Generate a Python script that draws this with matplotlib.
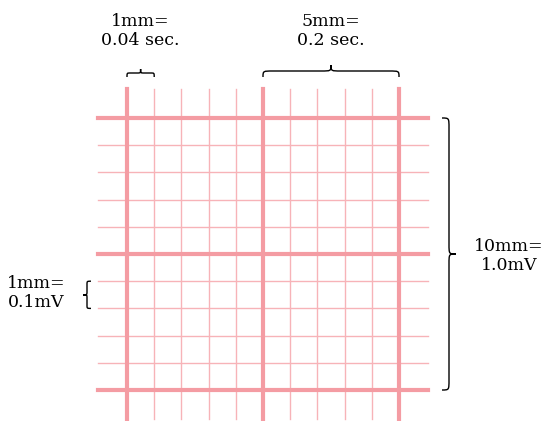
import matplotlib
matplotlib.use("Agg")
import matplotlib.pyplot as plt
from matplotlib.path import Path
from matplotlib.patches import PathPatch

# grid in mm (1 small square = 1 mm)
n_mm = 10
major_every = 5
mm_px = 27.2
x0, y0 = 127, 118          # top-left major line (pixels)
overhang = 29

labels = {
    "top_small": "1mm=\n0.04 sec.",
    "top_big": "5mm=\n0.2 sec.",
    "right": "10mm=\n1.0mV",
    "left": "1mm=\n0.1mV",
}

thick_col = "#f49ca3"
thin_col = "#f7b3b8"

fig = plt.figure(figsize=(5.53, 4.21), dpi=100)
ax = fig.add_axes([0, 0, 1, 1])
ax.set_xlim(0, 553)
ax.set_ylim(421, 0)
ax.axis("off")

x_end = x0 + n_mm * mm_px
y_end = y0 + n_mm * mm_px
for i in range(n_mm + 1):
    major = i % major_every == 0
    lw = 3.0 if major else 1.0
    c = thick_col if major else thin_col
    x = x0 + i * mm_px
    y = y0 + i * mm_px
    ax.plot([x, x], [y0 - overhang, y_end + overhang], color=c, lw=lw, zorder=3 if major else 2)
    ax.plot([x0 - overhang, x_end + overhang], [y, y], color=c, lw=lw, zorder=3 if major else 2)


def brace(a, b, pos, d, horizontal=True):
    # d > 0: tip points toward smaller coordinate (up / left)
    m = (a + b) / 2
    q = min((b - a) * 0.12, 10)
    h = pos - d / 2
    t = pos - d
    pts = [(a, pos),
           (a, h), (a, h), (a + q, h),
           (m - q, h),
           (m, h), (m, h), (m, t),
           (m, h), (m, h), (m + q, h),
           (b - q, h),
           (b, h), (b, h), (b, pos)]
    codes = [Path.MOVETO,
             Path.CURVE4, Path.CURVE4, Path.CURVE4,
             Path.LINETO,
             Path.CURVE4, Path.CURVE4, Path.CURVE4,
             Path.CURVE4, Path.CURVE4, Path.CURVE4,
             Path.LINETO,
             Path.CURVE4, Path.CURVE4, Path.CURVE4]
    if not horizontal:
        pts = [(p, q_) for q_, p in pts]
    ax.add_patch(PathPatch(Path(pts, codes), fill=False, lw=1.0, edgecolor="black"))


brace(x0, x0 + mm_px, 77, 8)
brace(x0 + 5 * mm_px, x_end, 77, 12)
brace(y0, y_end, 442, -14, False)
brace(y0 + 6 * mm_px, y0 + 7 * mm_px, 91, 8, False)

font = dict(family="DejaVu Serif", fontsize=12.5, ha="center", va="center", linespacing=1.1)
ax.text(x0 + mm_px / 2, 31, labels["top_small"], **font)
ax.text(x0 + 7.5 * mm_px, 31, labels["top_big"], **font)
ax.text(509, 256, labels["right"], **font)
ax.text(36, 293, labels["left"], **font)

fig.savefig("out.png", dpi=100)
